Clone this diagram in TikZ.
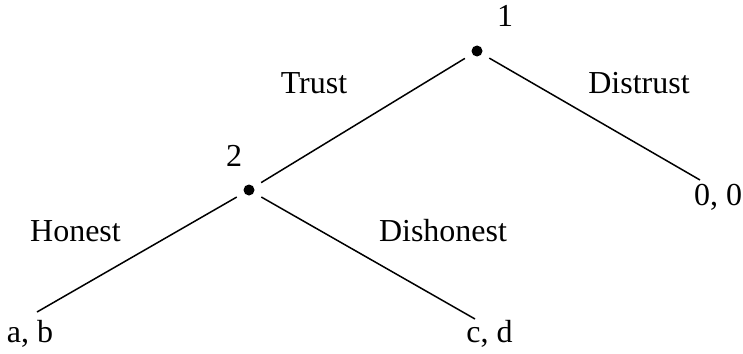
\documentclass[tikz,border=0pt]{standalone}
\usepackage{fontspec}
\setmainfont{Liberation Serif}
\begin{document}
\begin{tikzpicture}[x=1pt,y=-1pt,
  dotnode/.style={circle,fill=black,inner sep=0pt,minimum size=11pt},
  lbl/.style={anchor=base,inner sep=0pt,font=\fontsize{32}{38}\selectfont},
  edge/.style={line width=1.5pt,shorten <=8.5pt}]
\useasboundingbox (0,0) rectangle (743,353);
\node[dotnode] (n1) at (477,51) {};
\node[dotnode] (n2) at (249,190) {};
\coordinate (e00) at (700,180);
\coordinate (eab) at (37,312);
\coordinate (ecd) at (475,319);
\node[lbl] (l1) at (505,27) {1};
\node[lbl] (l2) at (234,166) {2};
\node[lbl] (t) at (314,93) {Trust};
\node[lbl] (d) at (639,93) {Distrust};
\node[lbl] (h) at (75.5,241) {Honest};
\node[lbl] (dh) at (443,241) {Dishonest};
\node[lbl] (p00) at (718,205) {0, 0};
\node[lbl] (pab) at (30,342) {a, b};
\node[lbl] (pcd) at (489.5,342) {c, d};
\draw[edge,shorten >=8.5pt] (n1) -- (n2);
\draw[edge] (n1) -- (e00);
\draw[edge] (n2) -- (eab);
\draw[edge] (n2) -- (ecd);
\end{tikzpicture}
\end{document}
